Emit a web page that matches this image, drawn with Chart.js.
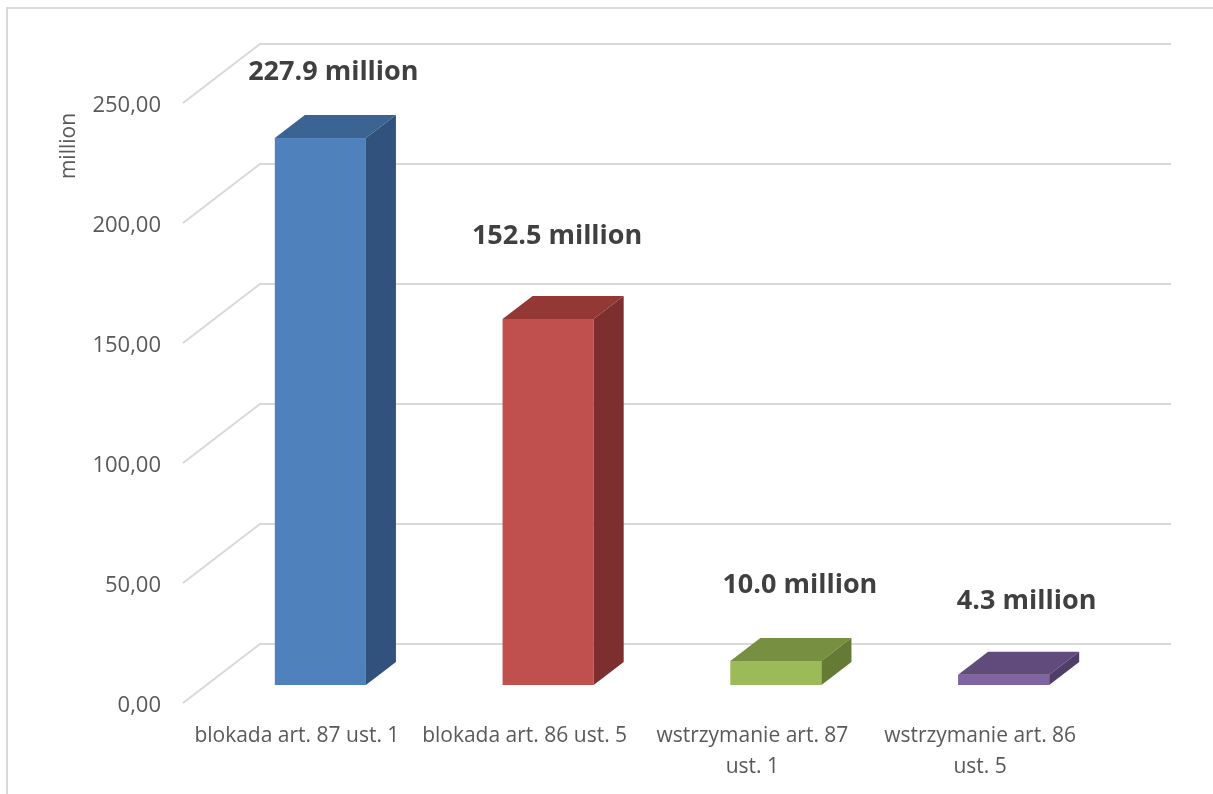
<!DOCTYPE html>
<html>
<head>
<meta charset="utf-8">
<script src="https://cdn.jsdelivr.net/npm/chart.js@4.4.1/dist/chart.umd.min.js"></script>
<style>
  html, body { margin: 0; padding: 0; background: #ffffff; }
  #wrap { width: 1213px; height: 794px; }
</style>
</head>
<body>
<div id="wrap"><canvas id="c" width="1213" height="794"></canvas></div>
<script>
// ---- data ----
const categories = [
  ['blokada art. 87 ust. 1'],
  ['blokada art. 86 ust. 5'],
  ['wstrzymanie art. 87', 'ust. 1'],
  ['wstrzymanie art. 86', 'ust. 5']
];
const values = [227.9, 152.5, 10.0, 4.3];
const valueLabels = ['227.9 million', '152.5 million', '10.0 million', '4.3 million'];
const yTickValues = [0, 50, 100, 150, 200, 250];
const yTickLabels = ['0,00', '50,00', '100,00', '150,00', '200,00', '250,00'];
const yAxisTitle = 'million';

// ---- style ----
const frontColors = ['#4F81BD', '#C0504D', '#9BBB59', '#8064A2'];
const topColors   = ['#3C6492', '#943836', '#768F40', '#614B7D'];
const sideColors  = ['#31527C', '#7C2F2E', '#647A35', '#503E69'];
const DEPTH = { dx: 77, dy: -59 };      // full floor depth vector
const BAR_FRONT = 0.305, BAR_DEPTH = 0.39;
const labelNudge = [[-4, 9], [-8, -8], [7, -1], [6, 2]];

const threeD = {
  id: 'threeD',
  beforeDatasetsDraw(chart) {
    const ctx = chart.ctx, ys = chart.scales.y, a = chart.chartArea;
    ctx.save();
    // outer frame
    ctx.strokeStyle = '#D9D9D9';
    ctx.lineWidth = 2;
    ctx.strokeRect(7, 8, 1400, 1000);
    // walls grid
    ctx.lineWidth = 2;
    ctx.strokeStyle = '#D9D9D9';
    yTickValues.forEach(v => {
      const y = ys.getPixelForValue(v);
      ctx.beginPath();
      ctx.moveTo(a.left, y);
      ctx.lineTo(a.left + DEPTH.dx, y + DEPTH.dy);
      ctx.lineTo(a.right + DEPTH.dx, y + DEPTH.dy);
      ctx.stroke();
    });
    // y axis title
    ctx.fillStyle = '#595959';
    ctx.font = '21px "Open Sans"';
    ctx.textAlign = 'center';
    ctx.textBaseline = 'middle';
    ctx.translate(69, 146);
    ctx.rotate(-Math.PI / 2);
    ctx.fillText(yAxisTitle, 0, 0);
    ctx.restore();
  },
  beforeDatasetDraw() { return false; },
  afterDatasetsDraw(chart) {
    const ctx = chart.ctx;
    const meta = chart.getDatasetMeta(0);
    const sx = DEPTH.dx * BAR_FRONT, sy = DEPTH.dy * BAR_FRONT;
    const dx = DEPTH.dx * BAR_DEPTH, dy = DEPTH.dy * BAR_DEPTH;
    ctx.save();
    meta.data.forEach((el, i) => {
      const w = el.width;
      const x0 = el.x - w / 2 + sx, x1 = x0 + w;
      const yT = el.y + sy, yB = el.base + sy;
      // front
      ctx.fillStyle = frontColors[i];
      ctx.fillRect(x0, yT, w, yB - yT);
      // top
      ctx.fillStyle = topColors[i];
      ctx.beginPath();
      ctx.moveTo(x0, yT); ctx.lineTo(x1, yT);
      ctx.lineTo(x1 + dx, yT + dy); ctx.lineTo(x0 + dx, yT + dy);
      ctx.closePath(); ctx.fill();
      // side
      ctx.fillStyle = sideColors[i];
      ctx.beginPath();
      ctx.moveTo(x1, yT); ctx.lineTo(x1 + dx, yT + dy);
      ctx.lineTo(x1 + dx, yB + dy); ctx.lineTo(x1, yB);
      ctx.closePath(); ctx.fill();
      // value label
      ctx.fillStyle = '#404040';
      ctx.font = 'bold 27px "Open Sans"';
      ctx.textAlign = 'center';
      ctx.textBaseline = 'middle';
      ctx.fillText(valueLabels[i], el.x + sx + 17 + labelNudge[i][0], yT + dy - 52 + labelNudge[i][1]);
    });
    ctx.restore();
  }
};

new Chart(document.getElementById('c'), {
  type: 'bar',
  data: {
    labels: categories,
    datasets: [{
      data: values,
      backgroundColor: frontColors,
      barPercentage: 0.4,
      categoryPercentage: 1
    }]
  },
  options: {
    responsive: false,
    animation: false,
    devicePixelRatio: 1,
    layout: { padding: { left: 0, right: 119, top: 103, bottom: 0 } },
    plugins: { legend: { display: false }, tooltip: { enabled: false } },
    scales: {
      x: {
        grid: { display: false },
        border: { display: false },
        ticks: {
          color: '#595959',
          font: { family: 'Open Sans', size: 21, lineHeight: 1.45 },
          padding: 10,
          maxRotation: 0,
          autoSkip: false
        },
        afterFit(s) { s.height = 91; }
      },
      y: {
        min: 0,
        max: 250,
        grid: { display: false },
        border: { display: false },
        afterBuildTicks(s) { s.ticks = yTickValues.map(v => ({ value: v })); },
        ticks: {
          color: '#595959',
          font: { family: 'Open Sans', size: 22 },
          padding: 14,
          labelOffset: 3,
          callback(v) { return yTickLabels[yTickValues.indexOf(v)]; }
        },
        afterFit(s) { s.width = 183; }
      }
    }
  },
  plugins: [threeD]
});
</script>
</body>
</html>
